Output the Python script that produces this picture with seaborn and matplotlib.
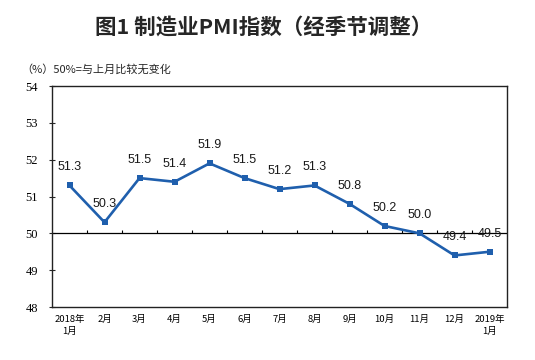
import numpy as np
import matplotlib
matplotlib.use("Agg")
import matplotlib.pyplot as plt
import seaborn as sns

# Données PMI manufacturier (corrigé des variations saisonnières)
MONTHS = ['2018年\n1月', '2月', '3月', '4月', '5月', '6月', '7月',
          '8月', '9月', '10月', '11月', '12月', '2019年\n1月']
PMI = [51.3, 50.3, 51.5, 51.4, 51.9, 51.5, 51.2, 51.3, 50.8, 50.2, 50.0, 49.4, 49.5]
Y_TICKS = [48, 49, 50, 51, 52, 53, 54]

TITLE = "图1 制造业PMI指数（经季节调整）"
NOTE = "（%）50%=与上月比较无变化"
BLUE = "#1F5FAD"

sns.set_style("white")
plt.rcParams['font.family'] = ['Noto Sans CJK SC', 'DejaVu Sans']

fig = plt.figure(figsize=(5.35, 3.6), dpi=100)
ax = fig.add_axes([0.0972, 0.1472, 0.8505, 0.6139])

x = np.arange(len(PMI))
sns.lineplot(x=x, y=PMI, ax=ax, color=BLUE, linewidth=1.9,
             marker='s', markersize=4, markeredgewidth=0, markerfacecolor=BLUE)

# ligne de référence à 50 avec petites graduations entre les mois
ax.axhline(50, color='black', linewidth=0.9, zorder=1)
bounds = np.arange(len(PMI) - 1) + 0.5
ax.vlines(bounds, 50, 50.08, color='black', linewidth=0.8, zorder=1)

for xi, v in zip(x, PMI):
    ax.annotate(f"{v:.1f}", (xi, v), xytext=(0, 13), textcoords='offset points',
                ha='center', va='center', fontsize=9, family='Liberation Sans',
                color='#1a1a1a')

ax.set_xlim(-0.5, len(PMI) - 0.5)
ax.set_ylim(48, 54)
ax.set_yticks(Y_TICKS)
ax.set_yticklabels([str(t) for t in Y_TICKS], family='Liberation Serif', fontsize=9)
ax.set_xticks(x)
ax.set_xticklabels(MONTHS, fontsize=6.8, linespacing=1.35)
ax.tick_params(axis='x', length=0, pad=6, labelcolor='black')
ax.tick_params(axis='y', direction='inout', length=4, width=0.8, pad=8, left=True,
               labelcolor='black')

for s in ax.spines.values():
    s.set_visible(True)
    s.set_color('#222222')
    s.set_linewidth(1.0)

fig.text(0.492, 0.925, TITLE, ha='center', va='center', fontsize=15.5, fontweight='bold')
fig.text(0.04, 0.806, NOTE, ha='left', va='center', fontsize=8)

fig.savefig("out.png", dpi=100)
